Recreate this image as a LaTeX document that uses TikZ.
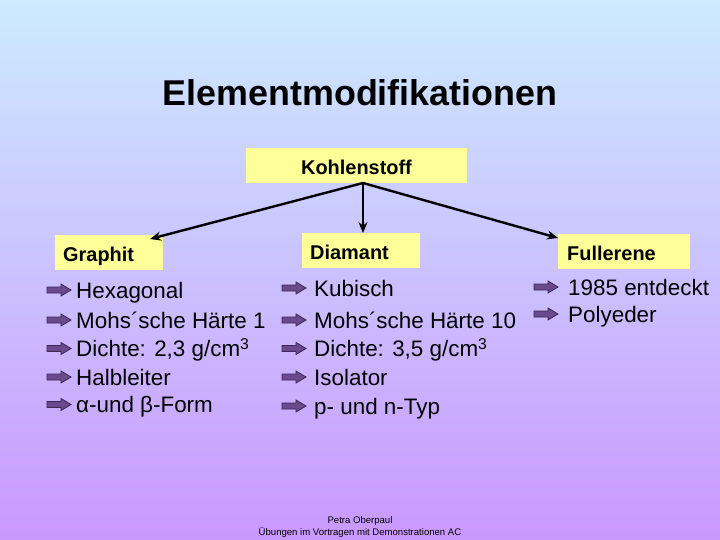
\documentclass[tikz,border=0pt]{standalone}
\usepackage{fontspec}
\setmainfont{Liberation Sans}
\usetikzlibrary{arrows.meta}
\definecolor{bgtop}{HTML}{CCEBFF}
\definecolor{bgbot}{HTML}{CA98FF}
\definecolor{boxyellow}{HTML}{FFFF99}
\definecolor{bulletfill}{HTML}{6A4A8C}
\definecolor{bulletline}{HTML}{3A2852}
\tikzset{
  yellowbox/.style={fill=boxyellow, draw=none, minimum height=35bp, inner ysep=0pt, text height=18bp, text depth=0pt, align=left, font=\fontsize{20}{24}\selectfont\bfseries},
  conn/.style={draw=black, line width=2.4bp, -{Stealth[length=11bp,width=9bp]}},
  item/.style={anchor=base west, inner sep=0pt, font=\fontsize{22.5}{26}\selectfont},
  barrow/.pic={\filldraw[fill=bulletfill, draw=bulletline, line width=0.8bp, line join=miter]
     (0,-3) -- (14,-3) -- (14,-6) -- (24,0) -- (14,6) -- (14,3) -- (0,3) -- cycle;}
}
\begin{document}
\begin{tikzpicture}[x=1bp, y=-1bp]
\useasboundingbox (0,0) rectangle (720,540);
\shade[top color=bgtop, bottom color=bgbot] (0,0) rectangle (720,540);

\node[font=\fontsize{36}{40}\selectfont\bfseries, anchor=base, inner sep=0pt] (title) at (360,106) {Elementmodifikationen};

\node[yellowbox, minimum width=221bp, align=center] (K) at (356.5,165.5) {Kohlenstoff};
\node[yellowbox, anchor=north west, text width=92bp, inner xsep=8bp] (G) at (55,235) {Graphit};
\node[yellowbox, anchor=north west, text width=102bp, inner xsep=8bp] (D) at (302,233) {Diamant};
\node[yellowbox, anchor=north west, text width=114bp, inner xsep=9bp] (F) at (558,234) {Fullerene};

\coordinate (apex) at (363,183);
\coordinate (gtip) at (150,239);
\coordinate (dtip) at (363,233);
\coordinate (ftip) at (558,238);
\draw[conn] (apex) -- (gtip);
\draw[conn] (apex) -- (dtip);
\draw[conn] (apex) -- (ftip);

% Graphit list
\foreach \yy/\txt in {298/Hexagonal, 328/{Mohs´sche Härte 1}, 356.5/{Dichte: 2,3 g/cm\textsuperscript{3}}, 385/Halbleiter, 412.5/{α-und β-Form}}{
  \pic at (47,\yy-8) {barrow};
  \node[item] at (76,\yy) {\txt};
}
% Diamant list
\foreach \yy/\txt in {296/Kubisch, 328/{Mohs´sche Härte 10}, 356.5/{Dichte: 3,5 g/cm\textsuperscript{3}}, 385/Isolator, 414/{p- und n-Typ}}{
  \pic at (282,\yy-8) {barrow};
  \node[item] at (314,\yy) {\txt};
}
% Fullerene list
\foreach \yy/\txt in {295/{1985 entdeckt}, 322/Polyeder}{
  \pic at (534,\yy-8) {barrow};
  \node[item] at (568,\yy) {\txt};
}

\node[anchor=base, inner sep=0pt, font=\fontsize{9.6}{10}\selectfont] (f1) at (360,523) {Petra Oberpaul};
\node[anchor=base, inner sep=0pt, font=\fontsize{9.6}{10}\selectfont] (f2) at (360,535) {Übungen im Vortragen mit Demonstrationen AC};
\end{tikzpicture}
\end{document}
